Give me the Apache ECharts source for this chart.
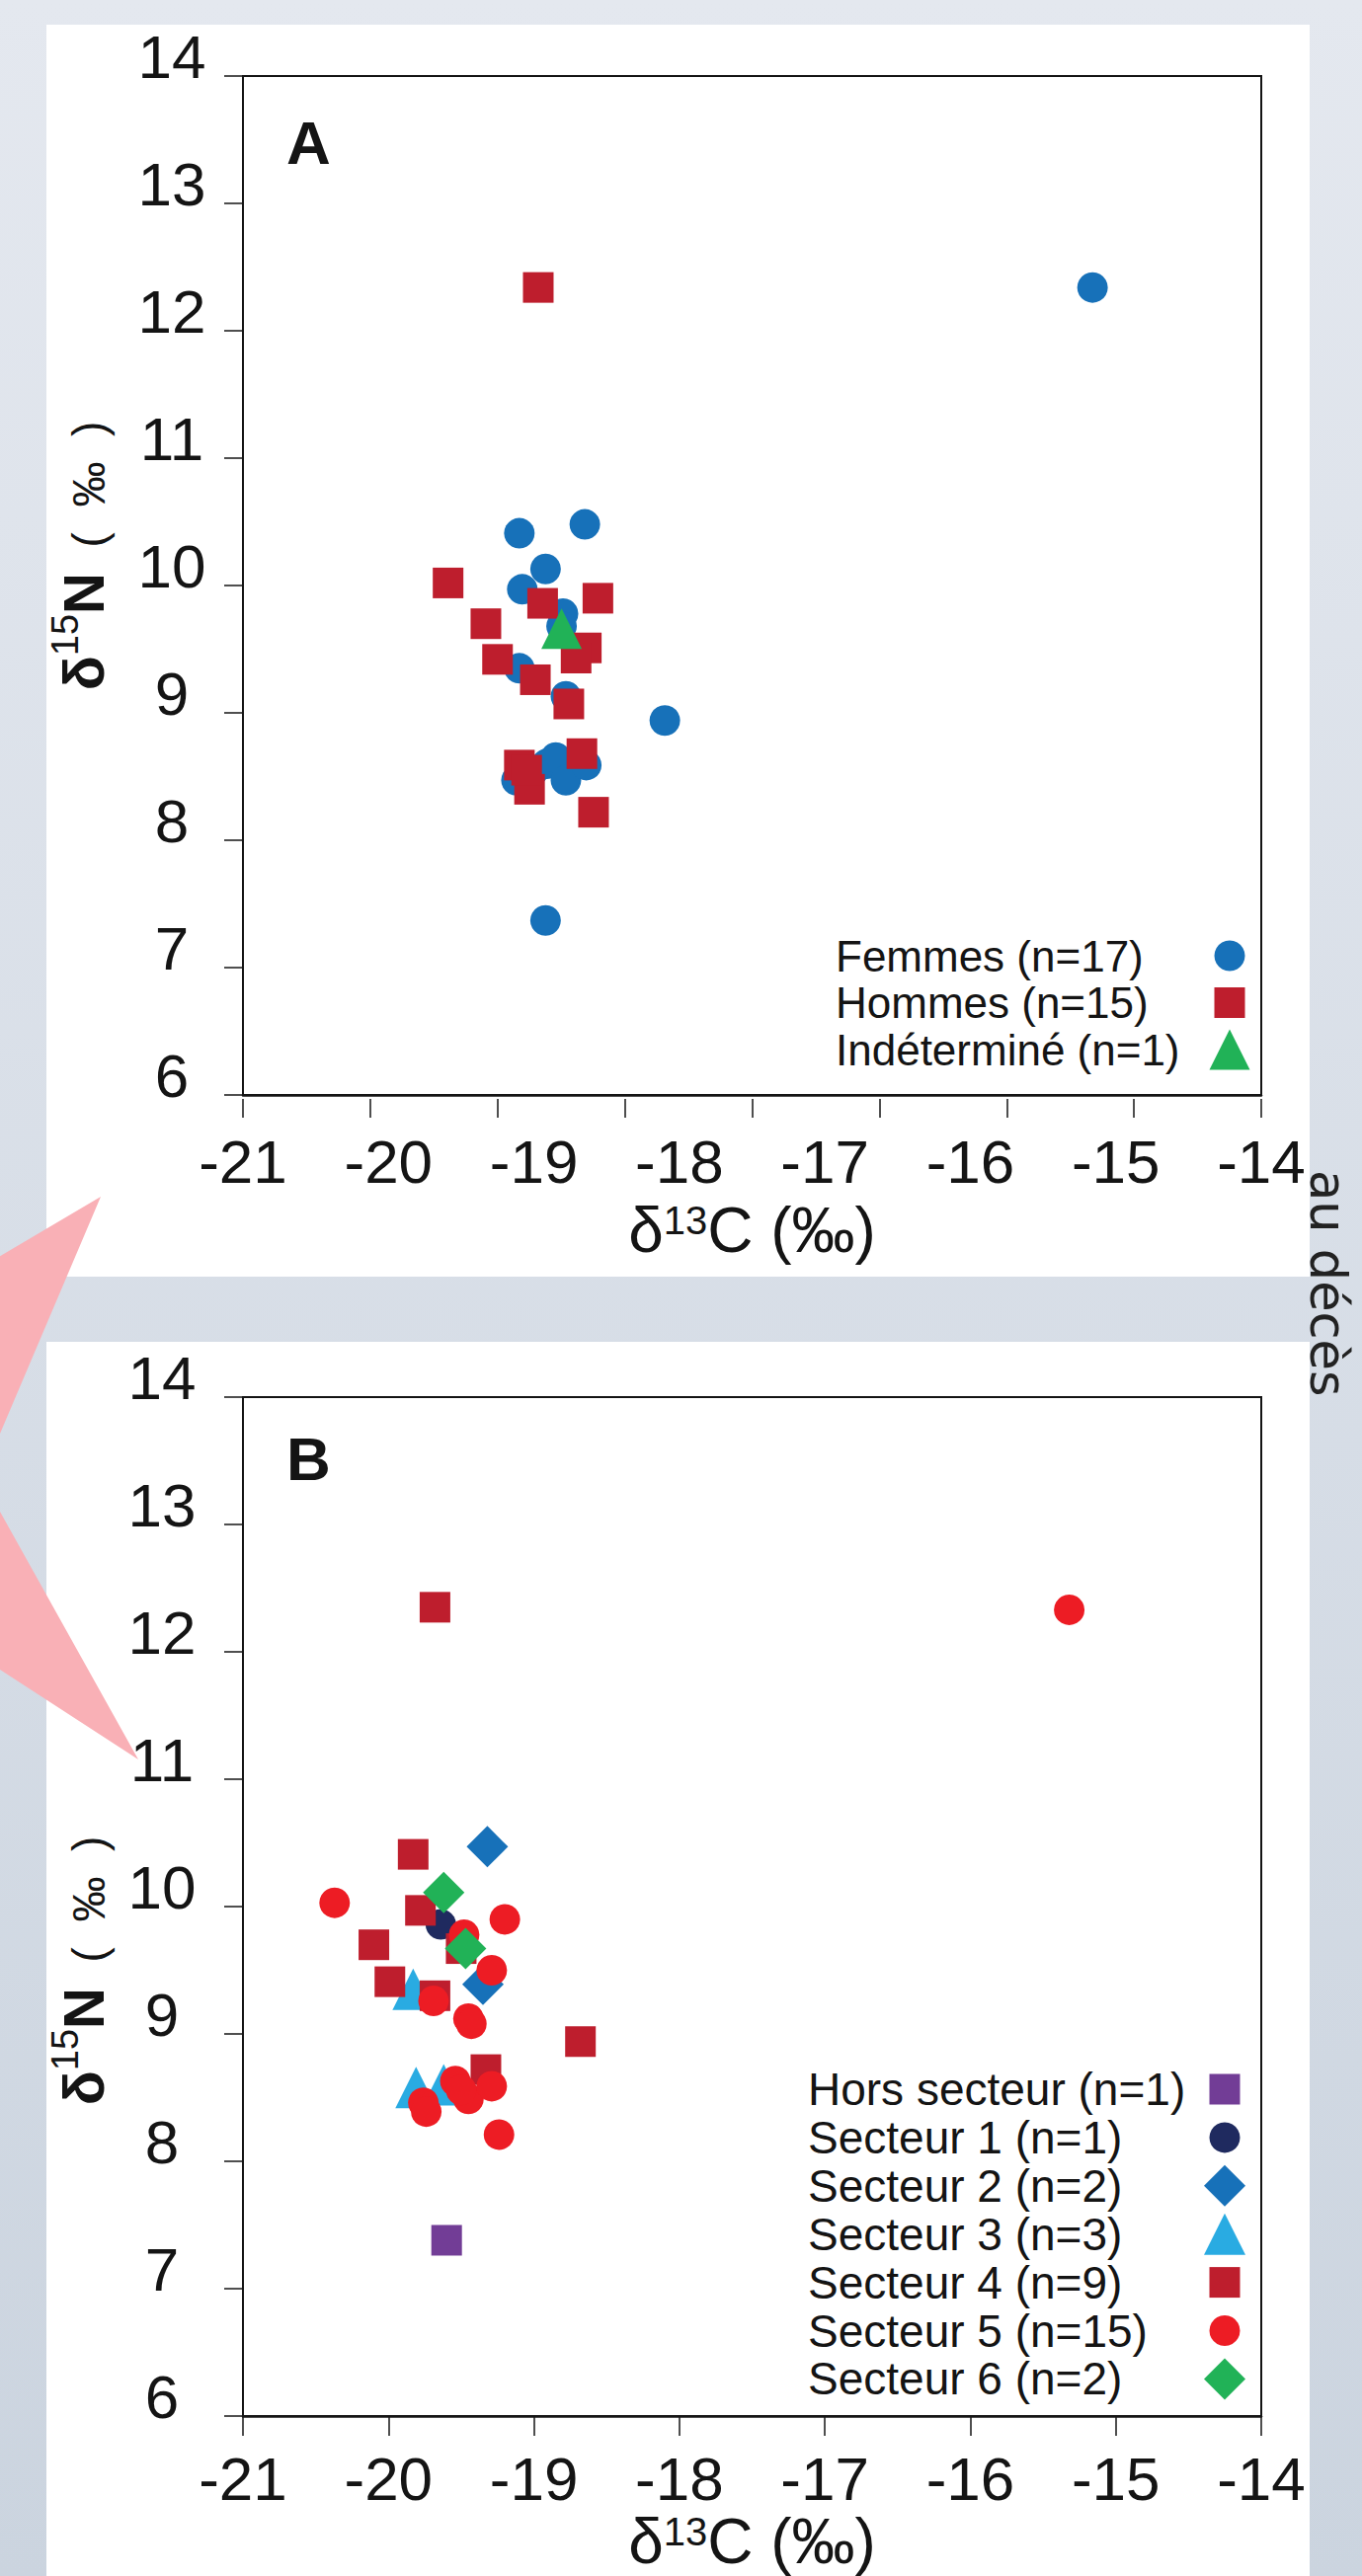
<!DOCTYPE html>
<html>
<head>
<meta charset="utf-8">
<title>δ13C / δ15N</title>
<script src="https://cdn.jsdelivr.net/npm/echarts@6/dist/echarts.min.js"></script>
<style>
  html, body { margin: 0; padding: 0; }
  #chart { width: 1379px; height: 2609px; }
</style>
</head>
<body>
<div id="chart"></div>
<script>
// panel A : sexe  [δ13C, δ15N]
const femmes = [
  [-19.10, 10.41], [-18.65, 10.48], [-18.92, 10.13], [-19.08, 9.97], [-18.80, 9.78],
  [-18.81, 9.68], [-19.10, 9.35], [-18.78, 9.13], [-18.10, 8.94], [-18.91, 8.60],
  [-18.85, 8.65], [-18.78, 8.47], [-18.64, 8.59], [-19.12, 8.47], [-19.00, 8.55],
  [-15.16, 12.34], [-18.92, 7.37]
];
const hommes = [
  [-19.59, 10.02], [-19.33, 9.70], [-18.94, 9.86], [-18.56, 9.90], [-19.25, 9.42],
  [-18.64, 9.51], [-18.71, 9.43], [-18.99, 9.26], [-18.76, 9.07], [-19.10, 8.59],
  [-18.67, 8.68], [-19.03, 8.40], [-18.59, 8.22], [-18.97, 12.34], [-19.05, 8.55]
];
const indetermine = [[-18.81, 9.66]];

// panel B : secteurs
const horsSecteur = [[-19.60, 7.38]];
const secteur1 = [[-19.64, 9.86]];
const secteur2 = [[-19.32, 10.47], [-19.35, 9.39]];
const secteur3 = [[-19.83, 9.35], [-19.81, 8.58], [-19.62, 8.60]];
const secteur4 = [
  [-19.83, 10.41], [-19.78, 9.97], [-20.10, 9.70], [-19.99, 9.41], [-19.68, 9.30],
  [-19.50, 9.67], [-19.68, 12.35], [-18.68, 8.94], [-19.33, 8.72]
];
const secteur5 = [
  [-15.32, 12.33], [-20.37, 10.03], [-19.20, 9.90], [-19.48, 9.78], [-19.29, 9.50],
  [-19.69, 9.26], [-19.45, 9.12], [-19.43, 9.08], [-19.54, 8.63], [-19.45, 8.49],
  [-19.29, 8.59], [-19.76, 8.46], [-19.74, 8.39], [-19.24, 8.21], [-19.50, 8.56]
];
const secteur6 = [[-19.62, 10.11], [-19.47, 9.67]];

const namesA = ['Femmes (n=17)', 'Hommes (n=15)', 'Indéterminé (n=1)'];
const namesB = ['Hors secteur (n=1)', 'Secteur 1 (n=1)', 'Secteur 2 (n=2)', 'Secteur 3 (n=3)',
  'Secteur 4 (n=9)', 'Secteur 5 (n=15)', 'Secteur 6 (n=2)'];

const FONT = '"Liberation Sans", Arial, Helvetica, sans-serif';
const INK = '#141414';

const chart = echarts.init(document.getElementById('chart'), null, { renderer: 'svg' });

function yAxisFor(gridIndex, labelMargin, namePadding) {
  return {
    type: 'value', gridIndex: gridIndex, min: 6, max: 14, interval: 1,
    splitLine: { show: false },
    axisLine: { lineStyle: { color: INK, width: 1.5 } },
    axisTick: { length: 19, lineStyle: { color: INK, width: 1.5 } },
    axisLabel: {
      fontSize: 62, color: INK, fontFamily: FONT, align: 'center',
      margin: labelMargin, verticalAlign: 'bottom', lineHeight: 40
    },
    name: '{b|δ}{s|15}{b|N}{r|  (  ‰  )}',
    nameLocation: 'middle', nameRotate: 90, nameGap: 133,
    nameTextStyle: {
      padding: namePadding,
      rich: {
        b: { fontSize: 58, fontWeight: 'bold', fontFamily: FONT, color: INK, lineHeight: 66, verticalAlign: 'bottom' },
        s: { fontSize: 38, fontFamily: FONT, color: INK, lineHeight: 38, verticalAlign: 'top' },
        r: { fontSize: 46, fontFamily: FONT, color: INK, lineHeight: 66, verticalAlign: 'bottom' }
      }
    }
  };
}

function xAxisFor(gridIndex, showTick, labelMargin, nameGap) {
  return {
    type: 'value', gridIndex: gridIndex, min: -21, max: -14, interval: 1, position: 'bottom',
    splitLine: { show: false },
    axisLine: { onZero: false, lineStyle: { color: INK, width: 2.5 } },
    axisTick: { show: showTick, length: 20, lineStyle: { color: INK, width: 1.5 } },
    axisLabel: { fontSize: 62, color: INK, fontFamily: FONT, margin: labelMargin },
    name: '{d|δ}{s|13}{d|C (‰)}',
    nameLocation: 'middle', nameGap: nameGap,
    nameTextStyle: {
      rich: {
        d: { fontSize: 64, fontFamily: FONT, color: INK, lineHeight: 62, verticalAlign: 'bottom' },
        s: { fontSize: 40, fontFamily: FONT, color: INK, lineHeight: 38, verticalAlign: 'top' }
      }
    }
  };
}

function scatter(name, data, symbol, size, color, xi, yi) {
  return {
    type: 'scatter', name: name, data: data, symbol: symbol, symbolSize: size,
    xAxisIndex: xi, yAxisIndex: yi,
    itemStyle: { color: color, opacity: 1 },
    emphasis: { disabled: true }
  };
}

function legendRows(names, sizes, left, iconX, firstY, gap, fontSize, lineHeight) {
  return names.map(function (name, i) {
    return {
      data: [name], orient: 'vertical', align: 'right', selectedMode: false, padding: 0,
      left: left, top: firstY + i * gap - lineHeight / 2,
      itemWidth: sizes[i], itemHeight: sizes[i],
      formatter: '{t|{name}}',
      textStyle: {
        rich: {
          t: {
            width: iconX - sizes[i] / 2 - 5 - left, align: 'left',
            fontSize: fontSize, lineHeight: lineHeight, fontFamily: FONT, color: INK
          }
        }
      }
    };
  });
}

const option = {
  animation: false,
  backgroundColor: new echarts.graphic.LinearGradient(0, 0, 0, 1, [
    { offset: 0, color: '#e4e8ef' },
    { offset: 1, color: '#cbd4df' }
  ]),
  graphic: [
    { type: 'rect', z: -20, shape: { x: 47, y: 25, width: 1279, height: 1268 }, style: { fill: '#ffffff' } },
    { type: 'rect', z: -20, shape: { x: 47, y: 1359, width: 1279, height: 1260 }, style: { fill: '#ffffff' } },
    {
      type: 'polygon', z: -10,
      shape: { points: [[-30, 1290], [102, 1212], [0, 1452], [-30, 1470], [-30, 1520],
        [0, 1531], [140, 1782], [0, 1691], [-30, 1680]] },
      style: { fill: '#f9b0b6' }
    },
    {
      type: 'text', x: 1319, y: 1185, rotation: -Math.PI / 2,
      style: { text: 'au décès', font: '51px "DejaVu Sans"', fill: '#222', align: 'left', verticalAlign: 'bottom' }
    },
    { type: 'text', x: 290, y: 144, style: { text: 'A', font: 'bold 62px "Liberation Sans"', fill: INK, verticalAlign: 'middle' } },
    { type: 'text', x: 290, y: 1477, style: { text: 'B', font: 'bold 62px "Liberation Sans"', fill: INK, verticalAlign: 'middle' } }
  ],
  grid: [
    { left: 246, top: 77, width: 1031, height: 1032, show: true, borderColor: INK, borderWidth: 2 },
    { left: 246, top: 1415, width: 1031, height: 1032, show: true, borderColor: INK, borderWidth: 2 }
  ],
  xAxis: [
    xAxisFor(0, false, 36, 107),
    {
      // tick marks of panel A (8 intervals, just under the axis line)
      type: 'value', gridIndex: 0, position: 'bottom', min: 0, max: 8, interval: 1, offset: 4,
      splitLine: { show: false }, axisLine: { show: false }, axisLabel: { show: false },
      axisTick: { length: 19, lineStyle: { color: INK, width: 1.5 } }
    },
    xAxisFor(1, true, 32, 88)
  ],
  yAxis: [
    yAxisFor(0, 72, [0, 0, 0, 60]),
    yAxisFor(1, 82, [0, 130, 0, 0])
  ],
  legend: legendRows(namesA, [31, 31, 41], 846, 1245, 968, 47.5, 44, 44)
    .concat(legendRows(namesB, [31, 31, 42, 42, 31, 31, 42], 818, 1240, 2116, 48.9, 46, 46)),
  series: [
    scatter(namesA[0], femmes, 'circle', 31, '#1771b9', 0, 0),
    scatter(namesA[1], hommes, 'rect', 31, '#be1e2d', 0, 0),
    scatter(namesA[2], indetermine, 'triangle', 41, '#21b257', 0, 0),

    scatter(namesB[0], horsSecteur, 'rect', 31, '#723d96', 2, 1),
    scatter(namesB[1], secteur1, 'circle', 31, '#1f2a5f', 2, 1),
    scatter(namesB[2], secteur2, 'diamond', 42, '#1771b9', 2, 1),
    scatter(namesB[3], secteur3, 'triangle', 42, '#29abe2', 2, 1),
    scatter(namesB[4], secteur4, 'rect', 31, '#be1e2d', 2, 1),
    scatter(namesB[5], secteur5, 'circle', 31, '#ed1c24', 2, 1),
    scatter(namesB[6], secteur6, 'diamond', 42, '#21b257', 2, 1)
  ]
};

chart.setOption(option);
</script>
</body>
</html>
